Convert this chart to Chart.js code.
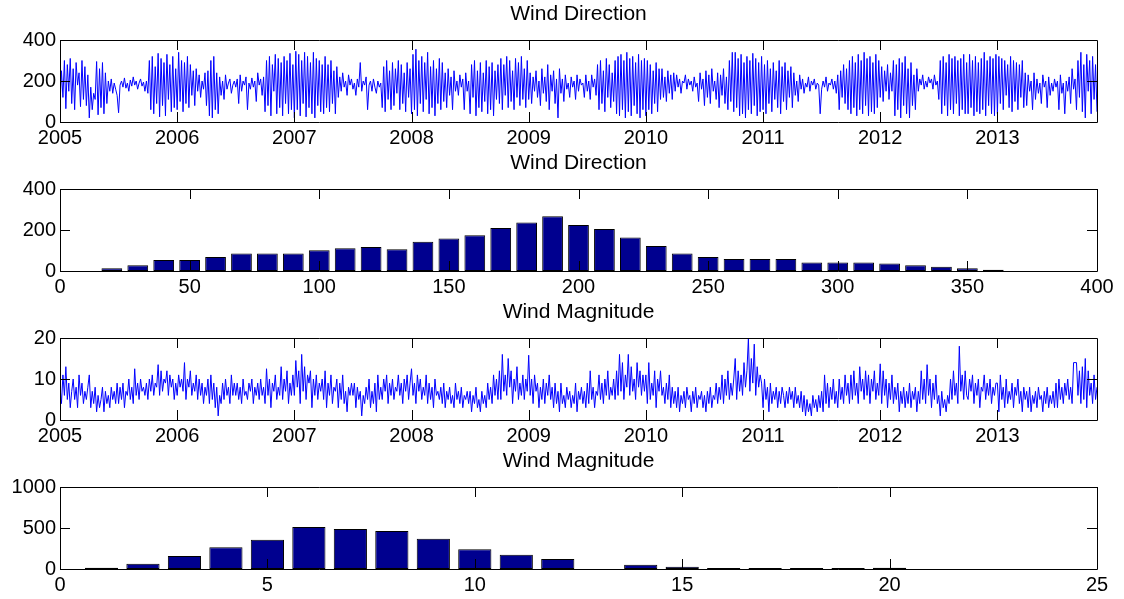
<!DOCTYPE html>
<html>
<head>
<meta charset="utf-8">
<script src="https://cdn.jsdelivr.net/npm/chart.js@4"></script>
<style>
  html, body { margin: 0; padding: 0; background: #fff; }
  #fig { position: relative; width: 1124px; height: 599px; }
  #fig canvas { position: absolute; left: 0; }
</style>
</head>
<body>
<div id="fig">
  <canvas id="dirLine" width="1124" height="149" style="top:0"></canvas>
  <canvas id="dirHist" width="1124" height="149" style="top:149px"></canvas>
  <canvas id="magLine" width="1124" height="149" style="top:298px"></canvas>
  <canvas id="magHist" width="1124" height="149" style="top:447px"></canvas>
</div>
<script>
// one reading every 1/80 year, starting Jan 2005
const startYear = 2005;
const perYear = 80;

// wind direction (deg), one row per quarter
const windDir = [
  80, 250, 120, 300, 65, 280, 150, 310, 90, 260, 60, 290, 180, 240, 75, 300, 110, 270, 80, 230,
  20, 170, 60, 140, 110, 295, 35, 260, 70, 290, 40, 240, 90, 200, 150, 210, 140, 190, 160, 130,
  45, 180, 200, 170, 215, 165, 190, 150, 205, 175, 220, 180, 200, 160, 190, 210, 175, 195, 150, 200,
  140, 300, 60, 320, 40, 270, 90, 335, 25, 310, 80, 290, 30, 330, 110, 280, 50, 320, 70, 260,
  60, 340, 100, 300, 50, 290, 90, 320, 70, 280, 130, 250, 80, 260, 150, 230, 120, 200, 160, 240,
  80, 250, 30, 300, 20, 320, 60, 240, 40, 220, 130, 200, 110, 230, 160, 190, 210, 140, 180, 200,
  170, 210, 90, 230, 150, 200, 180, 220, 60, 190, 160, 215, 170, 200, 100, 240, 180, 210, 130, 220,
  50, 300, 80, 320, 30, 280, 150, 330, 40, 310, 70, 290, 30, 320, 90, 300, 40, 335, 60, 280,
  20, 345, 60, 330, 30, 300, 90, 340, 25, 320, 70, 290, 40, 340, 20, 310, 80, 300, 50, 280,
  40, 320, 70, 280, 50, 300, 90, 250, 40, 270, 120, 220, 150, 240, 170, 200, 130, 230, 180, 210,
  160, 190, 130, 210, 170, 290, 150, 200, 180, 220, 60, 180, 200, 150, 210, 170, 140, 200, 170, 190,
  70, 270, 50, 300, 110, 250, 60, 290, 80, 260, 140, 300, 60, 280, 90, 240, 50, 290, 120, 260,
  40, 330, 60, 355, 30, 300, 90, 320, 50, 290, 110, 340, 40, 270, 70, 300, 30, 260, 90, 310,
  60, 290, 100, 240, 70, 260, 130, 220, 60, 250, 150, 200, 130, 230, 170, 210, 60, 240, 150, 200,
  40, 280, 120, 300, 30, 250, 70, 290, 50, 240, 100, 300, 40, 270, 60, 290, 30, 250, 110, 280,
  90, 310, 60, 280, 130, 320, 70, 300, 100, 250, 60, 310, 120, 290, 80, 320, 110, 260, 70, 300,
  110, 240, 90, 220, 150, 250, 120, 200, 80, 260, 140, 220, 100, 280, 60, 230, 150, 250, 90, 210,
  20, 260, 140, 210, 100, 230, 160, 190, 120, 220, 170, 200, 110, 230, 150, 210, 180, 190, 120, 230,
  150, 200, 110, 230, 170, 210, 130, 280, 60, 300, 90, 250, 50, 310, 120, 280, 70, 240, 100, 300,
  40, 320, 30, 330, 60, 300, 20, 340, 50, 310, 30, 320, 80, 290, 40, 330, 20, 300, 60, 310,
  30, 300, 60, 280, 40, 250, 90, 290, 50, 260, 110, 260, 120, 220, 100, 250, 140, 230, 110, 240,
  150, 230, 170, 210, 140, 200, 190, 230, 160, 210, 180, 200, 150, 220, 170, 190, 100, 240, 160, 210,
  80, 250, 120, 230, 90, 260, 150, 200, 110, 240, 70, 230, 130, 260, 90, 220, 60, 300, 100, 340,
  50, 340, 70, 310, 30, 330, 40, 290, 20, 320, 60, 300, 40, 335, 80, 310, 30, 290, 50, 320,
  60, 280, 40, 300, 90, 260, 50, 290, 110, 250, 70, 300, 40, 270, 100, 290, 60, 250, 120, 270,
  70, 240, 130, 200, 100, 230, 160, 210, 140, 190, 170, 220, 150, 200, 180, 210, 160, 190, 180, 40,
  160, 200, 170, 220, 150, 190, 180, 210, 160, 200, 140, 230, 60, 250, 120, 280, 90, 260, 60, 300,
  40, 320, 70, 290, 30, 330, 60, 300, 40, 340, 80, 310, 30, 320, 50, 290, 40, 330, 70, 300,
  120, 270, 100, 250, 150, 280, 110, 240, 150, 300, 30, 280, 60, 310, 20, 290, 80, 320, 40, 260,
  20, 290, 80, 230, 60, 260, 150, 210, 180, 230, 160, 200, 170, 220, 190, 210, 160, 230, 180, 200,
  110, 300, 40, 320, 80, 290, 30, 330, 60, 310, 40, 320, 90, 300, 30, 310, 60, 330, 40, 290,
  40, 330, 70, 300, 30, 320, 50, 290, 40, 310, 60, 340, 30, 300, 80, 320, 40, 310, 30, 330,
  40, 320, 90, 310, 60, 300, 130, 280, 70, 320, 50, 300, 100, 290, 60, 280, 120, 300, 70, 240,
  80, 230, 150, 200, 60, 240, 110, 210, 140, 190, 90, 230, 170, 200, 70, 220, 130, 190, 150, 210,
  170, 200, 60, 230, 140, 190, 40, 200, 150, 220, 90, 260, 160, 210, 60, 300, 120, 340, 50, 280,
  20, 330, 150, 300, 40, 320, 110, 280, 50
];

// wind magnitude, same sampling
const windMag = [
  8, 4, 11, 6, 13, 5, 9, 3, 7, 10, 5, 8, 3, 11, 6, 9, 4, 7, 5, 8,
  11, 3, 7, 4, 8, 2, 6, 3, 5, 8, 2, 7, 4, 6, 3, 8, 5, 7, 4, 9,
  4, 8, 5, 9, 3, 7, 6, 10, 5, 8, 4, 12.5, 6, 9, 5, 10, 7, 8, 6, 9,
  5, 10, 7, 11, 6, 9, 8, 13.5, 6, 12, 7, 10, 9, 12, 6, 11, 8, 10, 5, 9,
  6, 11, 8, 10, 7, 14, 5, 10, 8, 12, 6, 9, 7, 11, 5, 10, 6, 9, 4, 8,
  6, 10, 4, 11, 5, 9, 3, 8, 1, 6, 4, 9, 5, 10, 6, 8, 4, 11, 6, 9,
  6, 9, 5, 8, 4, 10, 6, 7, 5, 9, 7, 10, 4, 8, 6, 9, 5, 10, 6, 8,
  4, 12.5, 6, 10, 3, 9, 7, 11, 5, 8, 6, 13, 5, 10, 7, 12, 4, 9, 6, 11,
  6, 14.5, 8, 12, 4, 16, 7, 13, 5, 11, 9, 12, 3, 10, 6, 11, 5, 9, 7, 10,
  5, 12, 3, 9, 6, 11, 4, 8, 7, 10, 3, 9, 5, 11, 4, 7, 2, 8, 6, 9,
  6, 9, 3, 8, 5, 7, 1, 6, 4, 8, 5, 10, 3, 7, 4, 9, 2, 11, 5, 8,
  5, 10, 7, 11, 4, 9, 6, 10, 5, 8, 7, 11, 6, 9, 4, 10, 7, 11, 5, 9,
  12.5, 6, 9, 4, 11, 7, 10, 5, 8, 6, 11, 4, 9, 5, 8, 3, 10, 6, 7, 5,
  8, 4, 9, 3, 7, 5, 8, 4, 6, 3, 9, 5, 7, 4, 8, 3, 6, 5, 7, 4,
  7, 2, 6, 4, 8, 3, 5, 2, 7, 4, 6, 3, 9, 5, 8, 4, 11, 6, 10, 5,
  12, 5, 16, 7, 11, 6, 15, 8, 12, 4, 10, 7, 13, 5, 9, 6, 11, 5, 10, 7,
  15.8, 6, 10, 4, 11, 7, 9, 3, 8, 5, 10, 4, 9, 6, 11, 5, 8, 3, 9, 4,
  7, 2, 9, 4, 6, 3, 8, 5, 7, 3, 6, 4, 9, 2, 7, 5, 8, 4, 7, 3,
  9, 4, 12, 5, 8, 3, 7, 6, 11, 5, 9, 4, 10, 6, 12, 5, 8, 6, 10, 5,
  12, 6, 16, 7, 14, 5, 11, 8, 16, 6, 13, 7, 10, 5, 14, 8, 12, 6, 11, 7,
  11, 4, 14, 5, 9, 6, 12, 3, 10, 7, 12, 6, 8, 4, 9, 5, 11, 3, 8, 4,
  7, 3, 8, 2, 6, 4, 7, 3, 8, 5, 6, 2, 7, 4, 8, 3, 6, 5, 7, 3,
  6, 2, 7, 4, 8, 3, 6, 5, 9, 4, 8, 5, 11, 4, 10, 6, 12, 5, 9, 6,
  10, 15, 5, 12, 7, 11, 6, 14, 8, 12, 20, 7, 15, 9, 18.5, 6, 13, 8, 11, 9,
  3, 10, 5, 8, 2, 9, 4, 7, 5, 8, 3, 7, 4, 8, 6, 3, 7, 4, 8, 5,
  7, 3, 8, 4, 6, 3, 7, 2, 6, 1, 5, 2, 4, 1, 6, 3, 5, 2, 6, 3,
  7, 2, 11, 4, 9, 3, 8, 5, 10, 4, 7, 3, 10, 5, 8, 4, 11, 6, 9, 4,
  11, 5, 12, 6, 9, 4, 13, 7, 10, 5, 12, 6, 11, 4, 10, 7, 12, 5, 9, 6,
  13.7, 4, 12, 6, 10, 3, 9, 5, 11, 4, 8, 5, 9, 2, 7, 4, 8, 3, 7, 4,
  9, 3, 7, 5, 8, 2, 7, 4, 12, 5, 10, 4, 13.5, 6, 10, 3, 9, 5, 11, 4,
  6, 1, 7, 3, 5, 2, 6, 4, 10, 5, 12, 6, 9, 4, 18, 7, 11, 5, 12, 6,
  5, 10, 7, 11, 4, 9, 6, 10, 3, 8, 7, 11, 5, 9, 6, 10, 4, 8, 6, 9,
  9, 2, 11, 5, 8, 3, 10, 4, 7, 5, 9, 3, 8, 6, 10, 4, 7, 2, 8, 5,
  7, 3, 8, 2, 6, 4, 7, 3, 8, 5, 6, 2, 7, 4, 8, 3, 6, 4, 7, 3,
  9, 3, 10, 5, 8, 4, 9, 6, 10, 5, 8, 4, 14, 14, 14, 6, 12, 4, 13, 5,
  15, 3, 12, 6, 9, 4, 11, 5, 8
];

// histograms
const dirBins = [20, 30, 40, 50, 60, 70, 80, 90, 100, 110, 120, 130, 140, 150, 160, 170, 180, 190,
  200, 210, 220, 230, 240, 250, 260, 270, 280, 290, 300, 310, 320, 330, 340, 350, 360];
const dirCounts = [13, 28, 54, 54, 68, 85, 85, 85, 101, 111, 117, 106, 143, 158, 174, 210, 237, 267,
  224, 205, 163, 122, 85, 68, 59, 59, 59, 42, 42, 42, 37, 28, 21, 13, 6];

const magBins = [1, 2, 3, 4, 5, 6, 7, 8, 9, 10, 11, 12, 14, 15, 16, 17, 18, 19, 20];
const magCounts = [15, 65, 159, 264, 358, 512, 488, 463, 370, 240, 175, 122, 53, 28, 12, 12, 12, 12, 15];

Chart.defaults.font.family = "'Liberation Sans', Arial, Helvetica, sans-serif";
Chart.defaults.font.size = 20;
Chart.defaults.color = '#000';
Chart.defaults.animation = false;

// axes box with inward ticks on all four sides
const boxTicks = {
  id: 'boxTicks',
  afterDatasetsDraw(chart) {
    const { ctx, chartArea: a, scales: { x, y } } = chart;
    const len = 10;
    ctx.save();
    ctx.strokeStyle = '#000';
    ctx.lineWidth = 1;
    ctx.beginPath();
    x.ticks.forEach((t) => {
      const px = Math.round(x.getPixelForValue(t.value)) + 0.5;
      ctx.moveTo(px, a.bottom);
      ctx.lineTo(px, a.bottom - len);
      ctx.moveTo(px, a.top);
      ctx.lineTo(px, a.top + len);
    });
    y.ticks.forEach((t) => {
      const py = Math.round(y.getPixelForValue(t.value)) + 0.5;
      ctx.moveTo(a.left, py);
      ctx.lineTo(a.left + len, py);
      ctx.moveTo(a.right, py);
      ctx.lineTo(a.right - len, py);
    });
    ctx.rect(Math.round(a.left) + 0.5, Math.round(a.top) + 0.5,
      Math.round(a.width), Math.round(a.height));
    ctx.stroke();
    ctx.restore();
  },
};

function xAxis(min, max, step) {
  return {
    type: 'linear',
    min,
    max,
    offset: false,
    grid: { display: false, drawTicks: false },
    border: { display: false },
    ticks: {
      stepSize: step,
      includeBounds: false,
      autoSkip: false,
      maxRotation: 0,
      padding: 4,
      callback: (v) => String(v),
    },
    afterFit: (s) => { s.height = 27; },
  };
}

function yAxis(max, step) {
  return {
    min: 0,
    max,
    grid: { display: false, drawTicks: false },
    border: { display: false },
    ticks: { stepSize: step, padding: 4, callback: (v) => String(v) },
    afterFit: (s) => { s.width = 60; },
  };
}

function makeChart(id, type, title, dataset, x, y) {
  return new Chart(document.getElementById(id), {
    type,
    data: { datasets: [dataset] },
    options: {
      responsive: false,
      layout: { padding: { left: 0, right: 27, top: 0, bottom: 0 } },
      plugins: {
        legend: { display: false },
        tooltip: { enabled: false },
        title: {
          display: true,
          text: title,
          fullSize: false,
          color: '#000',
          font: { size: 21, weight: 'normal' },
          padding: { top: 2, bottom: 12.8 },
        },
      },
      scales: { x, y },
    },
    plugins: [boxTicks],
  });
}

const toSeries = (vals) => vals.map((v, i) => ({ x: startYear + i / perYear, y: v }));
const toBars = (bins, counts) => bins.map((b, i) => ({ x: b, y: counts[i] }));

const lineStyle = {
  borderColor: '#0000ff',
  borderWidth: 1,
  pointRadius: 0,
  tension: 0,
  fill: false,
};

const barStyle = {
  backgroundColor: '#00008f',
  borderColor: '#000',
  borderWidth: 1,
  borderSkipped: false,
  barPercentage: 0.8,
  categoryPercentage: 1.0,
};

makeChart('dirLine', 'line', 'Wind Direction',
  { ...lineStyle, data: toSeries(windDir) }, xAxis(2005, 2013.85, 1), yAxis(400, 200));

makeChart('dirHist', 'bar', 'Wind Direction',
  { ...barStyle, data: toBars(dirBins, dirCounts) }, xAxis(0, 400, 50), yAxis(400, 200));

makeChart('magLine', 'line', 'Wind Magnitude',
  { ...lineStyle, data: toSeries(windMag) }, xAxis(2005, 2013.85, 1), yAxis(20, 10));

makeChart('magHist', 'bar', 'Wind Magnitude',
  { ...barStyle, data: toBars(magBins, magCounts) }, xAxis(0, 25, 5), yAxis(1000, 500));
</script>
</body>
</html>
